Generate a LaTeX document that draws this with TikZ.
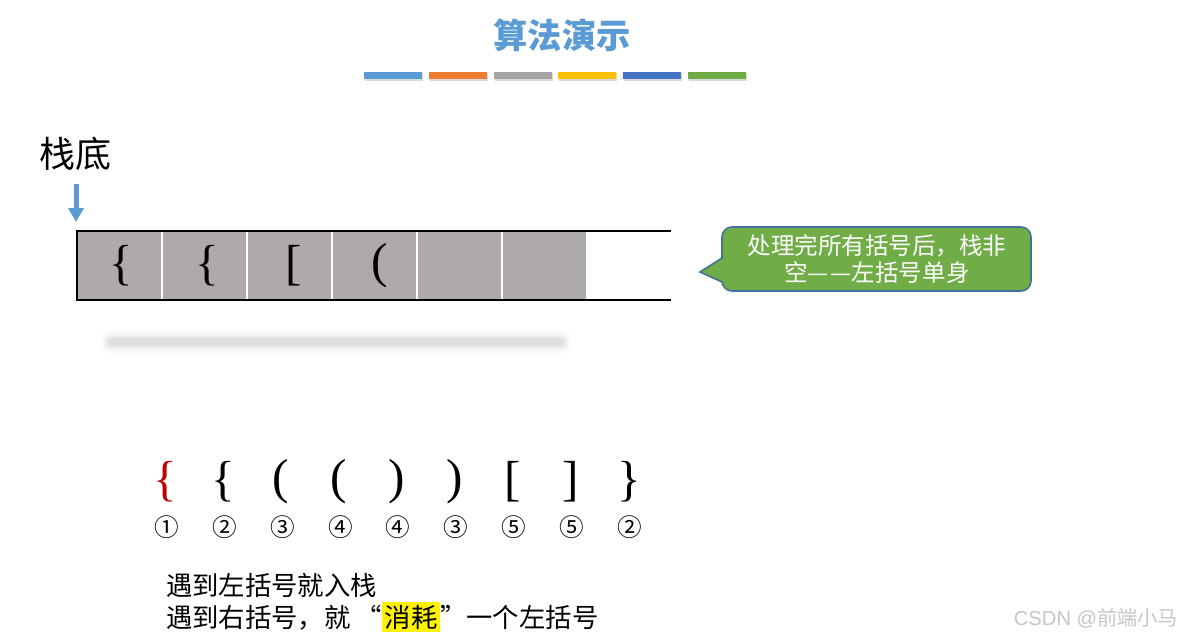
\documentclass[tikz,border=0pt]{standalone}
\usepackage{fontspec}
\setmainfont{Noto Sans CJK SC}
\newfontfamily\brfont{Liberation Serif}
\newfontfamily\wmfont{Liberation Sans}
\usepackage{xcolor}
\usetikzlibrary{arrows.meta,positioning}
\definecolor{titleblue}{HTML}{5B9BD5}
\definecolor{barorange}{HTML}{ED7D31}
\definecolor{bargray}{HTML}{A5A5A5}
\definecolor{baryellow}{HTML}{FFC000}
\definecolor{bardblue}{HTML}{4472C4}
\definecolor{bargreen}{HTML}{70AD47}
\definecolor{cellgray}{HTML}{AEAAAA}
\definecolor{brkred}{HTML}{C00000}
\definecolor{noteedge}{HTML}{41719C}
\setlength{\fboxsep}{1.5pt}

\begin{document}
\begin{tikzpicture}[x=0.02cm, y=-0.02cm,
  title/.style={font=\fontsize{19.5}{19.5}\selectfont\bfseries, text=titleblue},
  lbl/.style={font=\fontsize{20.5}{20.5}\selectfont},
  brk/.style={font=\brfont\fontsize{28}{28}\selectfont},
  num/.style={font=\fontsize{14}{14}\selectfont},
  rule/.style={anchor=west, font=\fontsize{15}{15}\selectfont},
  note/.style={align=center, text=white, font=\fontsize{13.4}{15.3}\selectfont},
  >=Triangle
]
\fill [white] (0,0) rectangle (1188,639);
\useasboundingbox (0,0) rectangle (1188,639);

% title and colour bars
\node [title] (head) at (562,35) {算法演示};
\foreach \c [count=\i from 0] in {titleblue,barorange,bargray,baryellow,bardblue,bargreen} {
  \fill [black, opacity=0.15] (365+64.8*\i,73) rectangle ++(58,7.5);
  \fill [\c] (364+64.8*\i,72) rectangle ++(58,7);
}

% stack bottom marker
\node [lbl] (base) at (76,154) {栈底};
\coordinate (basetip) at (76,222);
\draw [->, titleblue, line width=0.1cm, shorten <=4pt, arrows={-Triangle[length=0.28cm,width=0.3cm]}] (base) -- (basetip);

% stack
\fill [cellgray] (78,232) rectangle (586,299);
\foreach \x in {162,247,332,417,502} {
  \draw [white, line width=0.8pt] (\x,232) -- (\x,299);
}
\draw [line width=0.9pt] (671,231) -- (77,231) -- (77,300) -- (671,300);
\foreach \s/\x [count=\i] in {{\{}/121, {\{}/207, {[}/294, {(}/380} {
  \node [brk] (s\i) at (\x,266) {\s};
}

% blurred shadow
\foreach \w/\o in {24/0.03, 18/0.05, 13/0.08, 8/0.1} {
  \draw [gray, opacity=\o, line width=\w*0.567pt, line cap=round] (112,342) -- (560,342);
}

% callout
\filldraw [fill=bargreen, draw=noteedge, line width=0.9pt]
  (700,272) -- (722,258) [rounded corners=0.2cm] -- (722,227) -- (1031,227) -- (1031,291)
  -- (722,291) [sharp corners] -- (722,282) -- cycle;
\node [note] (msg) at (877,259) {处理完所有括号后，栈非\\空—\kern1pt—左括号单身};

% bracket sequence
\foreach \s/\n/\c [count=\i from 0] in {{\{}/①/brkred, {\{}/②/black, {(}/③/black,
    {(}/④/black, {)}/④/black, {)}/③/black, {[}/⑤/black, {]}/⑤/black, {\}}/②/black} {
  \node [brk, text=\c] (b\i) at (165+58*\i,482) {\s};
  \node [num] (n\i) at (167+57.8*\i,527) {\n};
}

% rules
\node [rule] (rule1) at (160,585) {遇到左括号就入栈};
\node [rule] (rule2) at (160,617) {遇到右括号，就\hspace{0.2em}“\colorbox{yellow}{消耗}”一个左括号};

\node [text=gray!45, font=\fontsize{11.5}{11.5}\selectfont] (wm) at (1096,618) {\wmfont CSDN @\normalfont 前端小马};
\end{tikzpicture}
\end{document}
